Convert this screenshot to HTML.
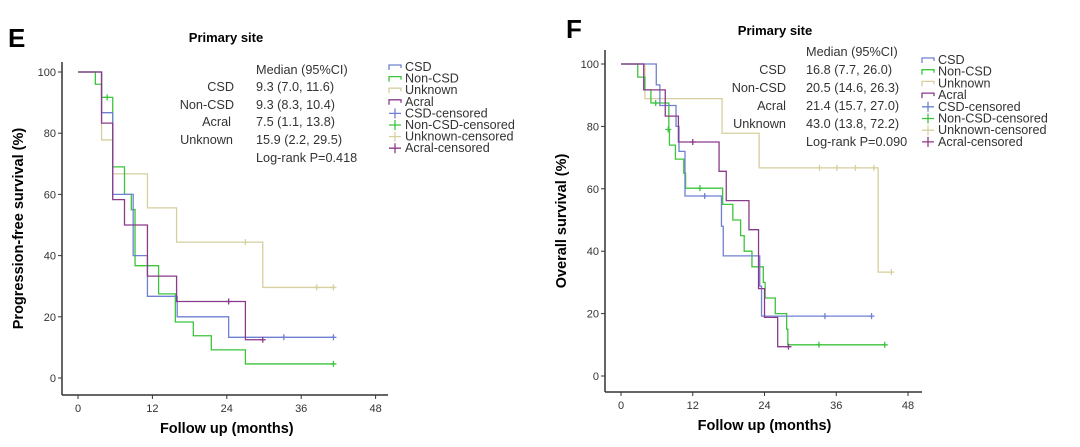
<!DOCTYPE html>
<html><head><meta charset="utf-8"><style>
body{margin:0;background:#fff}
svg{display:block;font-family:"Liberation Sans",Arial,sans-serif}
</style></head><body>
<svg id="s" width="1080" height="447" viewBox="0 0 1080 447" xmlns="http://www.w3.org/2000/svg">
<rect width="1080" height="447" fill="#fff"/>
<!-- Panel E -->
<text x="8" y="47" font-size="26" font-weight="bold">E</text>
<text x="226" y="42" font-size="13" font-weight="bold" text-anchor="middle">Primary site</text>
<g font-size="12.7" fill="#333">
<text x="256" y="74">Median (95%CI)</text>
<text x="234" y="91" text-anchor="end">CSD</text><text x="256" y="91">9.3 (7.0, 11.6)</text>
<text x="234" y="109" text-anchor="end">Non-CSD</text><text x="256" y="109">9.3 (8.3, 10.4)</text>
<text x="231" y="126" text-anchor="end">Acral</text><text x="256" y="126">7.5 (1.1, 13.8)</text>
<text x="233" y="144" text-anchor="end">Unknown</text><text x="256" y="144">15.9 (2.2, 29.5)</text>
<text x="256" y="162">Log-rank P=0.418</text>
</g>
<!-- Panel F -->
<text x="566" y="38" font-size="26" font-weight="bold">F</text>
<text x="775" y="35" font-size="13" font-weight="bold" text-anchor="middle">Primary site</text>
<g font-size="12.7" fill="#333">
<text x="806" y="56">Median (95%CI)</text>
<text x="786" y="74" text-anchor="end">CSD</text><text x="806" y="74">16.8 (7.7, 26.0)</text>
<text x="786" y="92" text-anchor="end">Non-CSD</text><text x="806" y="92">20.5 (14.6, 26.3)</text>
<text x="786" y="110" text-anchor="end">Acral</text><text x="806" y="110">21.4 (15.7, 27.0)</text>
<text x="786" y="128" text-anchor="end">Unknown</text><text x="806" y="128">43.0 (13.8, 72.2)</text>
<text x="806" y="146">Log-rank P=0.090</text>
</g>
<g id="g"></g>
</svg>
<script>
const NS="http://www.w3.org/2000/svg",G=document.getElementById('g');
function el(t,a,txt){const e=document.createElementNS(NS,t);for(const k in a)e.setAttribute(k,a[k]);if(txt!==undefined)e.textContent=txt;G.appendChild(e);return e;}
const C={csd:"#6f80d2",non:"#3cc43c",unk:"#d6cf9e",acr:"#8b3a8b"};
function panel(P){
 const X=t=>P.x0+t*P.sx, Y=v=>P.y0-v*P.sy;
 el('line',{x1:P.ax,y1:P.top,x2:P.ax,y2:P.bot,stroke:"#333","stroke-width":1.5});
 el('line',{x1:P.ax,y1:P.bot,x2:P.right,y2:P.bot,stroke:"#333","stroke-width":1.5});
 for(let v=0;v<=100;v+=20){el('line',{x1:P.ax-4,y1:Y(v),x2:P.ax,y2:Y(v),stroke:"#333"});
  el('text',{x:P.ax-6,y:Y(v)+4,"font-size":11,"text-anchor":"end",fill:"#333"},v);}
 for(let t=0;t<=48;t+=12){el('line',{x1:X(t),y1:P.bot,x2:X(t),y2:P.bot+4,stroke:"#333"});
  el('text',{x:X(t),y:P.bot+17,"font-size":11,"text-anchor":"middle",fill:"#333"},t);}
 el('text',{x:X(24),y:P.bot+38,"font-size":14.5,"font-weight":"bold","text-anchor":"middle"},"Follow up (months)");
 const yc=(P.top+P.bot)/2;
 el('text',{x:P.ax-39,y:yc,"font-size":14.5,"font-weight":"bold","text-anchor":"middle",transform:`rotate(-90 ${P.ax-39} ${yc})`},P.ytitle);
 for(const s of P.series){
  let d=`M${X(0)},${Y(s.p[0][1])}`;
  for(const [t,v] of s.p.slice(1)){d+=`H${X(t)}V${Y(v)}`;}
  d+=`H${X(s.end)}`;
  el('path',{d:d,fill:"none",stroke:C[s.c],"stroke-width":1.3});
  for(const [t,v] of s.cens){el('path',{d:`M${X(t)-3},${Y(v)}H${X(t)+3}M${X(t)},${Y(v)-3}V${Y(v)+3}`,stroke:C[s.c],"stroke-width":1.3});}
 }
 const L=[["CSD","csd"],["Non-CSD","non"],["Unknown","unk"],["Acral","acr"],["CSD-censored","csd"],["Non-CSD-censored","non"],["Unknown-censored","unk"],["Acral-censored","acr"]];
 L.forEach(([n,c],i)=>{const y=P.ly+i*P.ld;
  if(i<4)el('path',{d:`M${P.lx},${y+3}V${y-2}H${P.lx+12}V${y+1}`,fill:"none",stroke:C[c],"stroke-width":1.3});
  else el('path',{d:`M${P.lx},${y}H${P.lx+12}M${P.lx+6},${y-5}V${y+5}`,stroke:C[c],"stroke-width":1.3});
  el('text',{x:P.lx+16,y:y+4,"font-size":12.6,fill:"#333"},n);});
}
panel({x0:78,sx:6.2,y0:378,sy:3.06,ax:62,top:62,bot:395,right:388,ytitle:"Progression-free survival (%)",lx:389,ly:67,ld:11.6,
series:[
{c:"unk",end:41.2,p:[[0,100],[3.8,77.8],[5.6,66.7],[11.2,55.6],[15.9,44.4],[29.8,29.6]],cens:[[27,44.4],[38.5,29.6],[41.2,29.6]]},
{c:"non",end:41.2,p:[[0,100],[2.8,96],[3.8,91.7],[5.6,69],[7.5,60],[8.6,55],[9.2,36.7],[13,27.5],[15.7,18.3],[18.6,13.8],[21.5,9.2],[27,4.6]],cens:[[4.7,91.7],[41.2,4.6]]},
{c:"csd",end:41.2,p:[[0,100],[3.8,86.7],[5.6,60],[8.9,40],[11.2,26.7],[16,20],[24.3,13.3]],cens:[[33.2,13.3],[41.2,13.3]]},
{c:"acr",end:29.8,p:[[0,100],[3.8,83.3],[5.6,58.3],[7.5,50],[11.2,33.3],[15.9,25],[27,12.5]],cens:[[24.3,25],[29.8,12.5]]}
]});
panel({x0:621,sx:5.98,y0:376,sy:3.12,ax:605,top:50,bot:392,right:922,ytitle:"Overall survival (%)",lx:922,ly:60,ld:11.7,
series:[
{c:"unk",end:45.2,p:[[0,100],[4,88.9],[16.9,77.8],[23.1,66.7],[43,33.3]],cens:[[33.2,66.7],[36.1,66.7],[39.2,66.7],[42.3,66.7],[45.2,33.3]]},
{c:"non",end:44.1,p:[[0,100],[2.8,95.8],[4,91.7],[5,87.5],[8,79],[8.1,74],[9.1,69.5],[10.5,65],[10.8,60.2],[17,55],[18.7,50],[20,45],[20.6,40],[21.9,35],[23.8,30],[24.1,25],[25.8,20],[27.7,15],[27.9,10]],cens:[[5.8,87.5],[7.9,79],[13.2,60.2],[33.1,10],[44.1,10]]},
{c:"csd",end:41.9,p:[[0,100],[5.9,93.3],[6.5,86.7],[9.2,80],[9.7,72],[10.7,57.7],[16.8,48],[17.1,38.5],[23.2,28.8],[23.5,19.2]],cens:[[14,57.7],[34.1,19.2],[41.9,19.2]]},
{c:"acr",end:28,p:[[0,100],[3.8,91.7],[7.4,83.3],[9.6,75],[16.4,65.6],[17.6,56.2],[21.4,46.9],[23,28],[24,18.8],[26.2,9.4]],cens:[[12,75],[28,9.4]]}
]});
</script>
</body></html>
